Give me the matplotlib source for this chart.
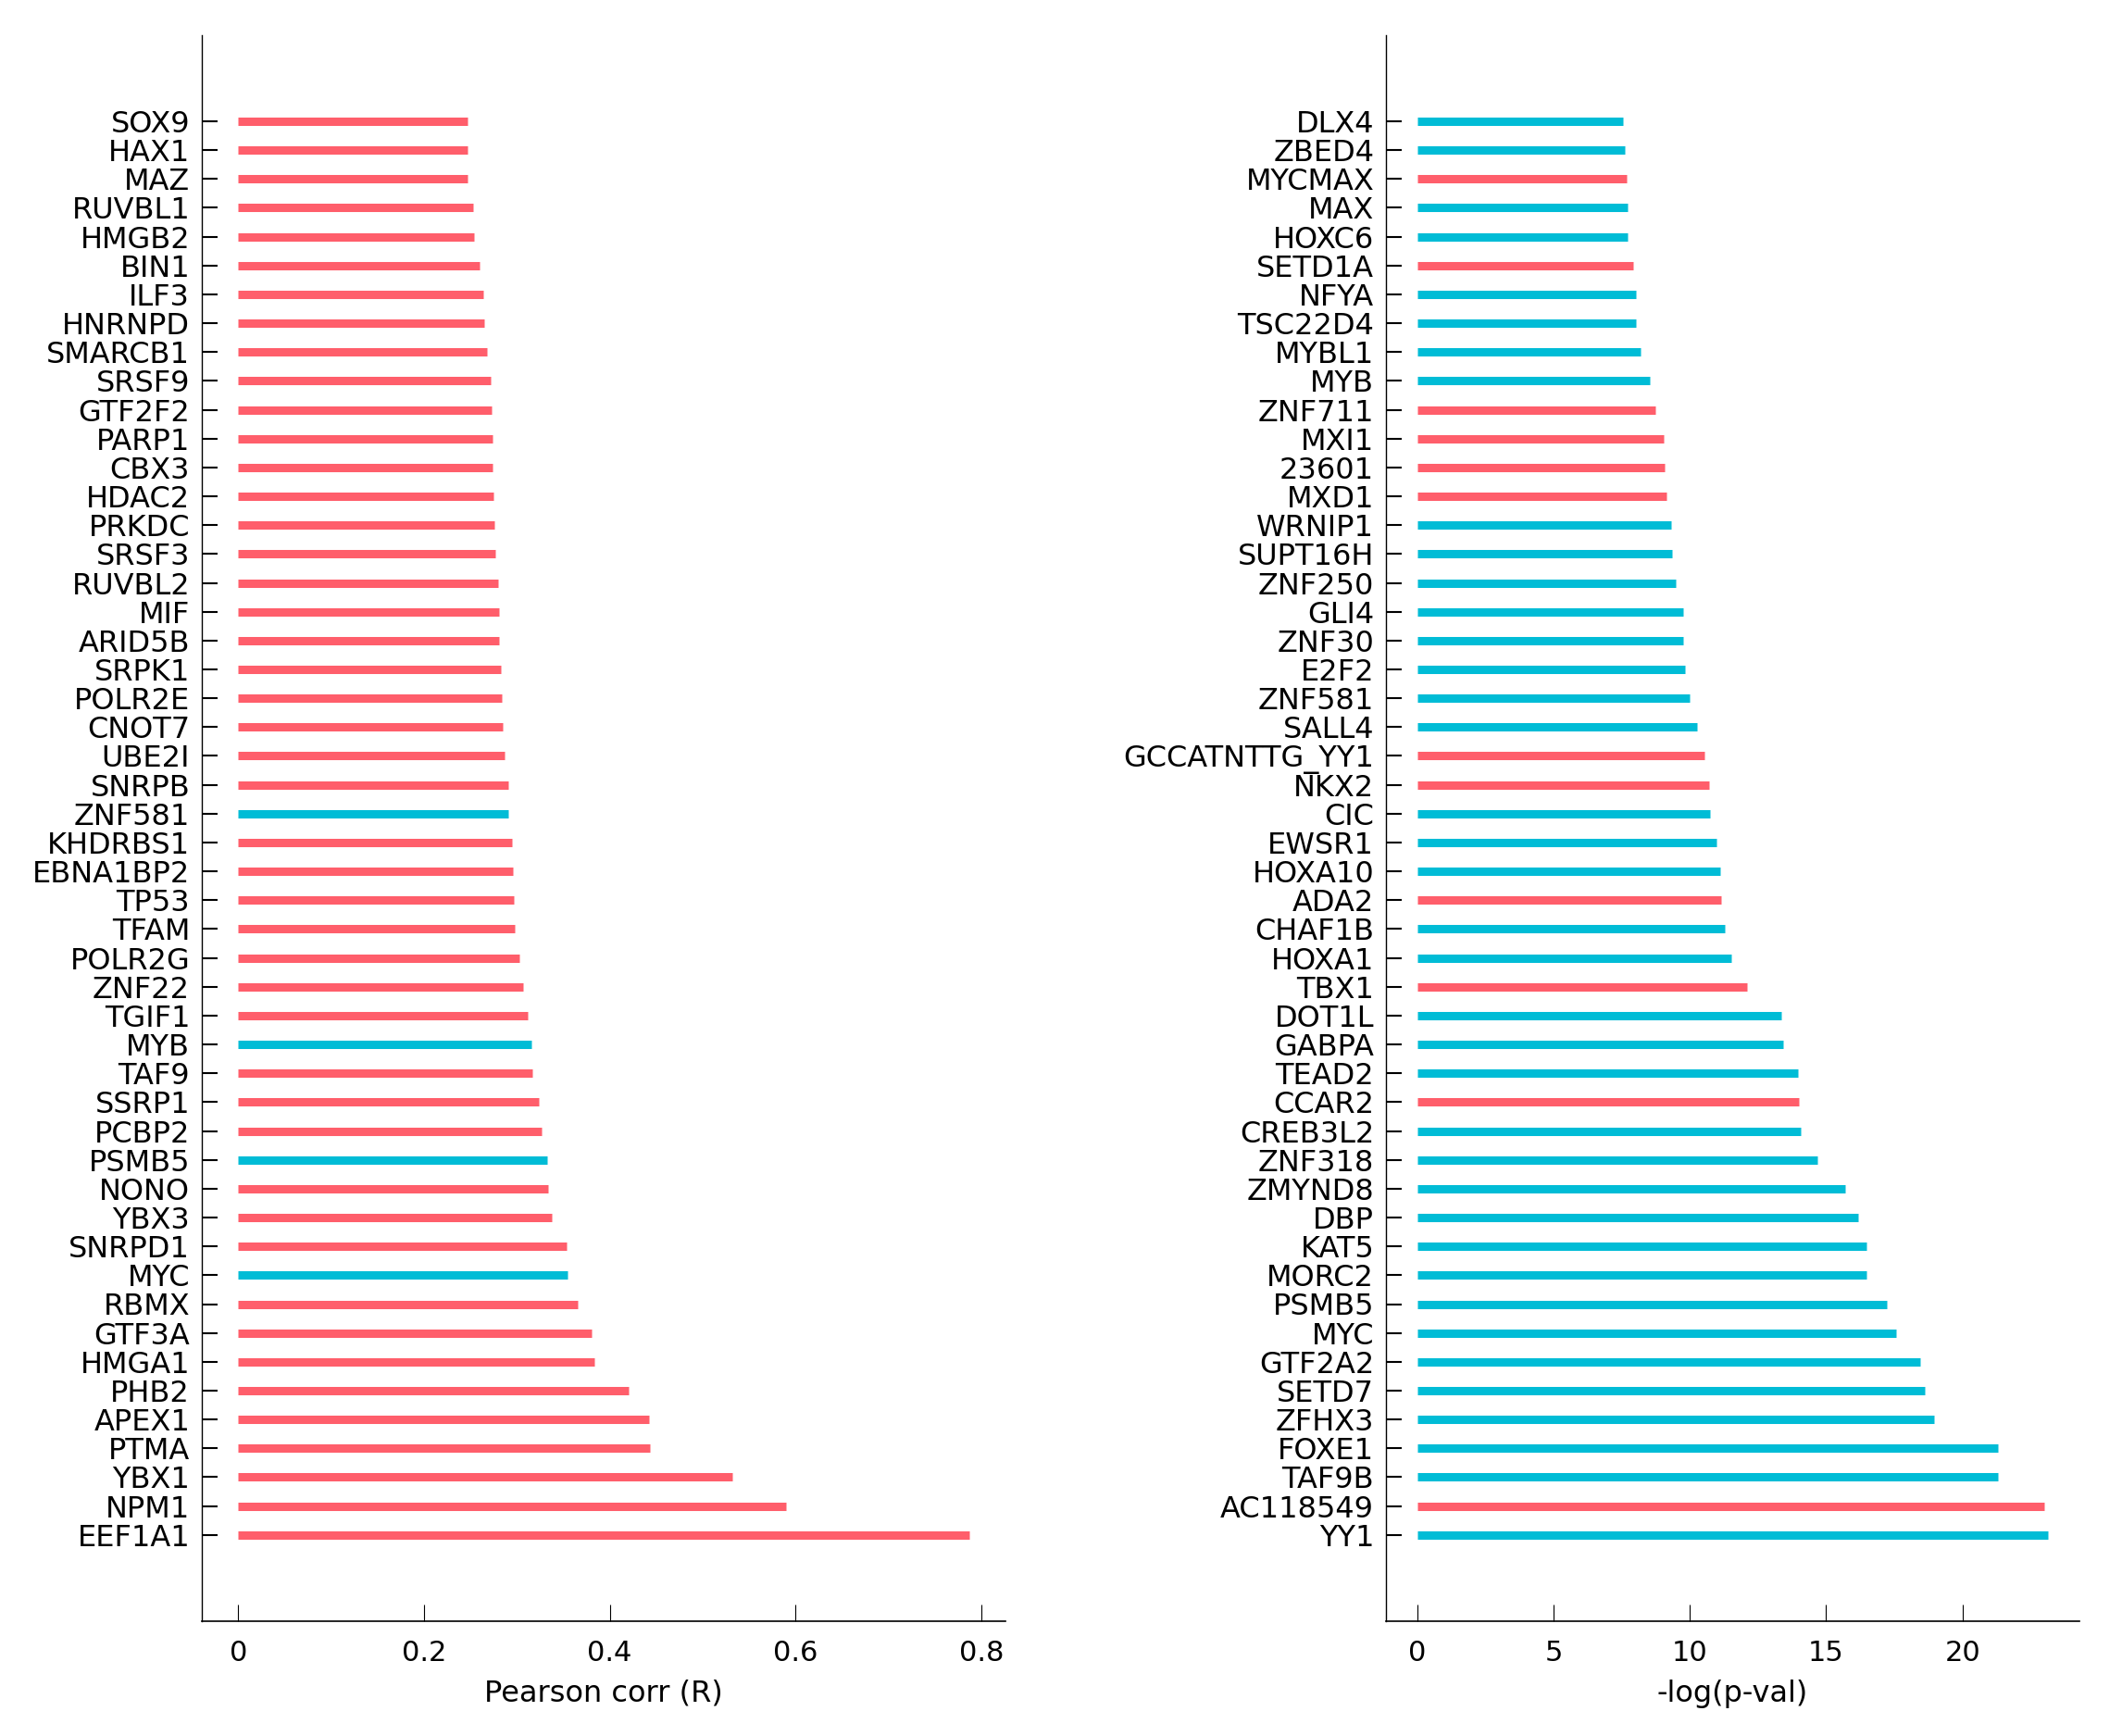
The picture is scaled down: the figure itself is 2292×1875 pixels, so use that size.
import matplotlib
matplotlib.use('Agg')
import matplotlib.pyplot as plt
from matplotlib.ticker import FormatStrFormatter, MultipleLocator

plt.rcParams['font.family'] = ['DejaVu Sans']

RED = '#FF5E6B'
CYAN = '#00BCD6'

# 左图：Pearson 相关（从上到下）
corr_genes = ['SOX9', 'HAX1', 'MAZ', 'RUVBL1', 'HMGB2', 'BIN1', 'ILF3', 'HNRNPD',
              'SMARCB1', 'SRSF9', 'GTF2F2', 'PARP1', 'CBX3', 'HDAC2', 'PRKDC', 'SRSF3',
              'RUVBL2', 'MIF', 'ARID5B', 'SRPK1', 'POLR2E', 'CNOT7', 'UBE2I', 'SNRPB',
              'ZNF581', 'KHDRBS1', 'EBNA1BP2', 'TP53', 'TFAM', 'POLR2G', 'ZNF22', 'TGIF1',
              'MYB', 'TAF9', 'SSRP1', 'PCBP2', 'PSMB5', 'NONO', 'YBX3', 'SNRPD1',
              'MYC', 'RBMX', 'GTF3A', 'HMGA1', 'PHB2', 'APEX1', 'PTMA', 'YBX1',
              'NPM1', 'EEF1A1']
corr_vals = [0.247, 0.247, 0.247, 0.253, 0.254, 0.260, 0.264, 0.265,
             0.268, 0.272, 0.273, 0.274, 0.274, 0.275, 0.276, 0.277,
             0.280, 0.281, 0.281, 0.283, 0.284, 0.285, 0.287, 0.291,
             0.291, 0.295, 0.296, 0.297, 0.298, 0.303, 0.307, 0.312,
             0.316, 0.317, 0.324, 0.327, 0.333, 0.334, 0.338, 0.354,
             0.355, 0.366, 0.380, 0.383, 0.420, 0.442, 0.443, 0.532,
             0.590, 0.787]
corr_cyan = ['ZNF581', 'MYB', 'PSMB5', 'MYC']

# 右图：-log(p-val)（从上到下）
pval_genes = ['DLX4', 'ZBED4', 'MYCMAX', 'MAX', 'HOXC6', 'SETD1A', 'NFYA', 'TSC22D4',
              'MYBL1', 'MYB', 'ZNF711', 'MXI1', '23601', 'MXD1', 'WRNIP1', 'SUPT16H',
              'ZNF250', 'GLI4', 'ZNF30', 'E2F2', 'ZNF581', 'SALL4', 'GCCATNTTG_YY1', 'NKX2',
              'CIC', 'EWSR1', 'HOXA10', 'ADA2', 'CHAF1B', 'HOXA1', 'TBX1', 'DOT1L',
              'GABPA', 'TEAD2', 'CCAR2', 'CREB3L2', 'ZNF318', 'ZMYND8', 'DBP', 'KAT5',
              'MORC2', 'PSMB5', 'MYC', 'GTF2A2', 'SETD7', 'ZFHX3', 'FOXE1', 'TAF9B',
              'AC118549', 'YY1']
pval_vals = [7.55, 7.62, 7.70, 7.71, 7.72, 7.92, 8.03, 8.03,
             8.21, 8.53, 8.75, 9.05, 9.07, 9.14, 9.31, 9.35,
             9.49, 9.75, 9.77, 9.81, 9.98, 10.25, 10.55, 10.72,
             10.74, 10.98, 11.13, 11.14, 11.27, 11.53, 12.09, 13.37,
             13.41, 13.96, 14.00, 14.07, 14.69, 15.71, 16.17, 16.47,
             16.48, 17.23, 17.58, 18.45, 18.62, 18.95, 21.29, 21.31,
             22.99, 23.14]
pval_red = ['MYCMAX', 'SETD1A', 'ZNF711', 'MXI1', '23601', 'MXD1',
            'GCCATNTTG_YY1', 'NKX2', 'ADA2', 'TBX1', 'CCAR2', 'AC118549']


def draw_panel(ax, genes, vals, colors, xlabel):
    n = len(genes)
    ys = [n - 1 - i for i in range(n)]
    ax.hlines(ys, 0, vals, colors=colors, linewidth=6.5)
    ax.set_ylim(-3, n + 2)
    ax.set_yticks(ys)
    ax.set_yticklabels(genes, fontsize=23)
    ax.set_xlabel(xlabel, fontsize=23, labelpad=10)
    ax.spines['top'].set_visible(False)
    ax.spines['right'].set_visible(False)
    ax.spines['left'].set_linewidth(1.0)
    ax.spines['bottom'].set_linewidth(1.2)
    ax.tick_params(axis='y', direction='in', length=12, width=1.5, pad=9)
    ax.tick_params(axis='x', direction='in', length=13, width=0.8, pad=14, labelsize=22)


fig = plt.figure(figsize=(22.92, 18.75), dpi=100)
ax1 = fig.add_axes([0.095, 0.066, 0.379, 0.914])
ax2 = fig.add_axes([0.653, 0.066, 0.327, 0.914])

c1 = [CYAN if g in corr_cyan else RED for g in corr_genes]
c2 = [RED if g in pval_red else CYAN for g in pval_genes]

draw_panel(ax1, corr_genes, corr_vals, c1, 'Pearson corr (R)')
ax1.xaxis.set_major_locator(MultipleLocator(0.2))
ax1.xaxis.set_major_formatter(FormatStrFormatter('%g'))
draw_panel(ax2, pval_genes, pval_vals, c2, '-log(p-val)')

plt.savefig('out.png', dpi=100, facecolor='white')
plt.close()
